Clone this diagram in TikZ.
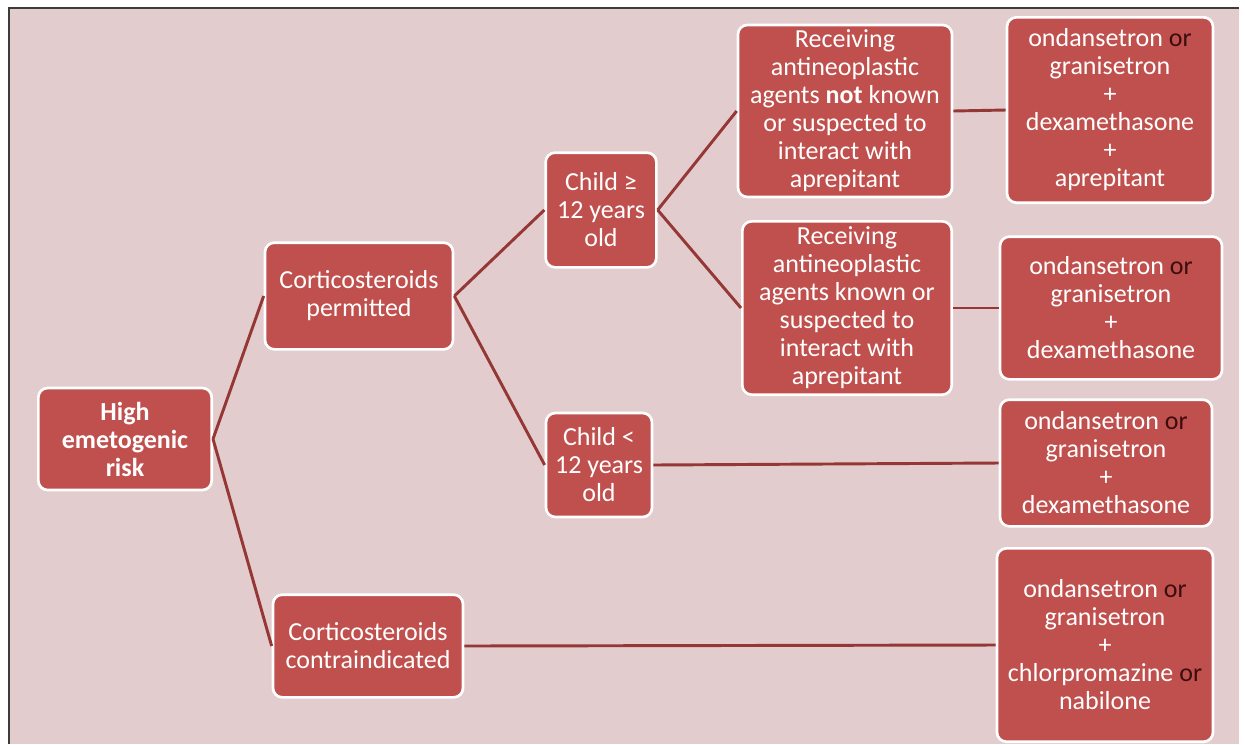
\documentclass[tikz,border=0pt]{standalone}
\usepackage{fontspec}
\setmainfont{Carlito}
\definecolor{boxred}{HTML}{C0504D}
\definecolor{linkred}{HTML}{953735}
\definecolor{bgpink}{HTML}{E2CCCD}
\definecolor{framegray}{HTML}{3C3C3C}
\definecolor{ordark}{HTML}{3A0E0E}
\newcommand{\orword}{\textcolor{ordark}{or}}
\begin{document}
\begin{tikzpicture}[x=0.75pt,y=-0.75pt,
step box/.style={rectangle,rounded corners=7pt,draw=white,line width=2pt,fill=boxred,
  text=white,align=center,inner sep=0pt,font=\fontsize{19.5}{21}\selectfont},
link/.style={draw=linkred,line width=2.2pt}]
% page and frame
\useasboundingbox (0,0) rectangle (1245,744);
\fill[white] (0,0) rectangle (1245,744);
\fill[bgpink] (9,8) rectangle (1239,744);
\draw[framegray,line width=1.5pt] (9,744) -- (9,8) -- (1239,8);
%risk
  \node[step box,minimum width=130pt,minimum height=76.5pt] (hi) at (125,439) {\textbf{High}\\\textbf{emetogenic}\\\textbf{risk}};
%corticosteroids
  \node[step box,minimum width=141pt,minimum height=80pt] (cp) at (359,296) {Corticosteroids\\permitted};
  \node[step box,minimum width=142.5pt,minimum height=77pt] (cc) at (368,646) {Corticosteroids\\contraindicated};
%age
  \node[step box,minimum width=83pt,minimum height=86pt] (old) at (601,210) {Child ≥\\12 years\\old};
  \node[step box,minimum width=79.5pt,minimum height=78pt] (young) at (599,465) {Child <\\12 years\\old};
%interaction
  \node[step box,minimum width=160.5pt,minimum height=129pt] (rnot) at (845,111) {Receiving\\antineoplastic\\agents \textbf{not} known\\or suspected to\\interact with\\aprepitant};
  \node[step box,minimum width=157pt,minimum height=130pt] (rknown) at (847,308) {Receiving\\antineoplastic\\agents known or\\suspected to\\interact with\\aprepitant};
%therapy
  \node[step box,minimum width=154.5pt,minimum height=139pt] (tx1) at (1110,110) {ondansetron \orword\\granisetron\\+\\dexamethasone\\+\\aprepitant};
  \node[step box,minimum width=166.5pt,minimum height=107pt] (tx2) at (1111,308) {ondansetron \orword\\granisetron\\+\\dexamethasone};
  \node[step box,minimum width=159pt,minimum height=95pt] (tx3) at (1106,463) {ondansetron \orword\\granisetron\\+\\dexamethasone};
  \node[step box,minimum width=162pt,minimum height=145pt] (tx4) at (1105,645) {ondansetron \orword\\granisetron\\+\\chlorpromazine \orword\\nabilone};
%paths
  \path[every edge/.style={link}]
    (hi.east) edge (cp.west)
              edge (cc.west)
    (cp.east) edge (old.west)
              edge (young.west)
    (old.east) edge (rnot.west)
               edge (rknown.west)
    (rnot.east) edge (tx1.west)
    (rknown.east) edge (tx2.west)
    (young.east) edge (tx3.west)
    (cc.east) edge (tx4.west);
\end{tikzpicture}
\end{document}
